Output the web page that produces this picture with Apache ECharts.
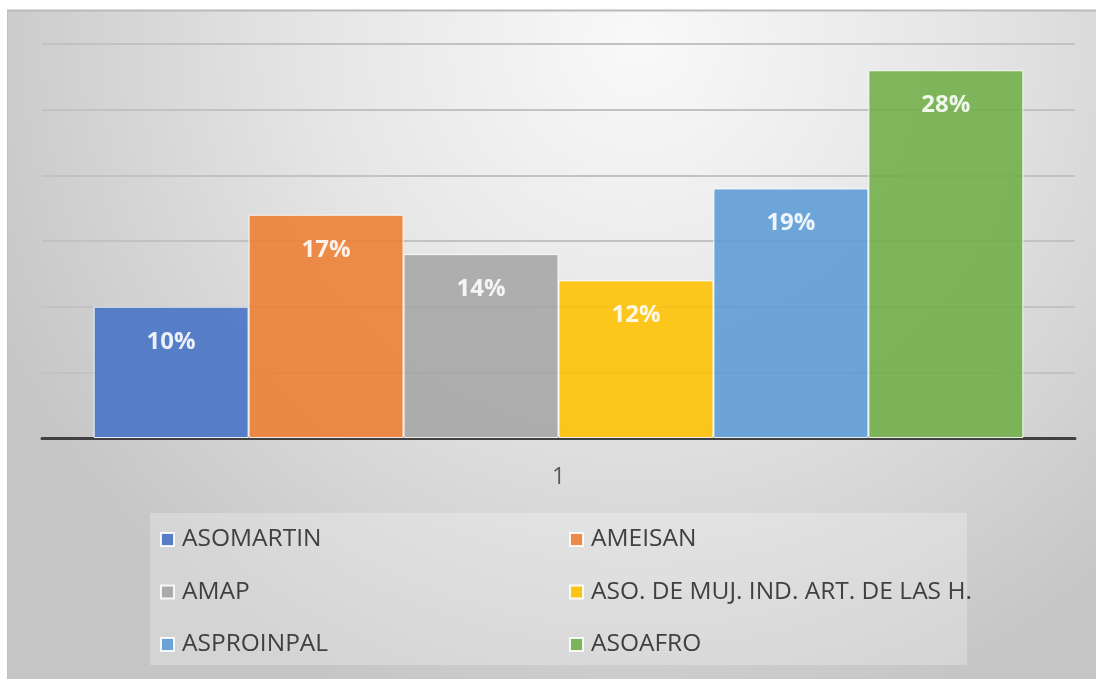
<!DOCTYPE html>
<html>
<head>
<meta charset="utf-8">
<script src="https://cdn.jsdelivr.net/npm/echarts@6/dist/echarts.min.js"></script>
<style>
html,body{margin:0;padding:0;background:#ffffff;}
#chart{width:1096px;height:679px;}
</style>
</head>
<body>
<div id="chart"></div>
<script>
const categories = ['1'];
const seriesNames = ['ASOMARTIN', 'AMEISAN', 'AMAP', 'ASO. DE MUJ. IND. ART. DE LAS H.', 'ASPROINPAL', 'ASOAFRO'];
const seriesValues = [0.10, 0.17, 0.14, 0.12, 0.19, 0.28];
const seriesColors = ['#4472c4', '#ed7d31', '#a5a5a5', '#ffc000', '#5b9bd5', '#70ad47'];
const legendCol1 = ['ASOMARTIN', 'AMAP', 'ASPROINPAL'];
const legendCol2 = ['AMEISAN', 'ASO. DE MUJ. IND. ART. DE LAS H.', 'ASOAFRO'];

const FONT = '"Open Sans", sans-serif';
const chart = echarts.init(document.getElementById('chart'));

const series = seriesNames.map((name, i) => ({
  name: name,
  type: 'bar',
  data: [seriesValues[i]],
  barGap: '0%',
  barCategoryGap: '10%',
  itemStyle: { color: seriesColors[i], opacity: 0.88, borderColor: '#ffffff', borderWidth: 1 },
  label: {
    show: true,
    position: 'insideTop',
    distance: 23,
    color: '#ffffff',
    fontFamily: FONT,
    fontWeight: 'bold',
    fontSize: 24,
    lineHeight: 24,
    formatter: p => Math.round(p.value * 100) + '%'
  }
}));

const legendBase = {
  orient: 'vertical',
  icon: 'rect',
  itemWidth: 13,
  itemHeight: 13,
  itemGap: 27.5,
  padding: 0,
  top: 527,
  selectedMode: false,
  textStyle: { color: '#404040', fontFamily: FONT, fontSize: 24.5, lineHeight: 22.5, padding: [0, 0, 0, 3] }
};

chart.setOption({
  animation: false,
  graphic: [
    {
      type: 'rect', z: -10, silent: true,
      shape: { x: 7, y: 10, width: 1089, height: 669 },
      style: {
        fill: {
          type: 'radial', x: 0.58, y: 0.05, r: 1.05,
          colorStops: [
            { offset: 0, color: '#f9f9f9' },
            { offset: 0.45, color: '#e6e6e6' },
            { offset: 1, color: '#c6c6c6' }
          ]
        }
      }
    },
    { type: 'line', z: -9, silent: true, shape: { x1: 7, y1: 10.5, x2: 1096, y2: 10.5 }, style: { stroke: '#b9b9b9', lineWidth: 2 } },
    { type: 'line', z: -9, silent: true, shape: { x1: 7.5, y1: 10, x2: 7.5, y2: 679 }, style: { stroke: '#c2c2c2', lineWidth: 1 } },
    {
      type: 'rect', z: -8, silent: true,
      shape: { x: 150, y: 513, width: 817, height: 152 },
      style: { fill: 'rgba(255,255,255,0.25)' }
    }
  ],
  grid: { left: 42, right: 21, top: 44, bottom: 241, containLabel: false },
  legend: [
    Object.assign({}, legendBase, { left: 160, data: legendCol1 }),
    Object.assign({}, legendBase, { left: 569, data: legendCol2 })
  ],
  xAxis: {
    type: 'category',
    data: categories,
    axisLine: { lineStyle: { color: '#404040', width: 3 } },
    axisTick: { show: false },
    axisLabel: { color: '#595959', fontFamily: FONT, fontSize: 23, lineHeight: 24, margin: 27 }
  },
  yAxis: {
    type: 'value',
    min: 0,
    max: 0.30,
    interval: 0.05,
    axisLabel: { show: false },
    axisLine: { show: false },
    axisTick: { show: false },
    splitLine: { lineStyle: { color: '#c2c2c2', width: 2 } }
  },
  series: series
});
</script>
</body>
</html>
